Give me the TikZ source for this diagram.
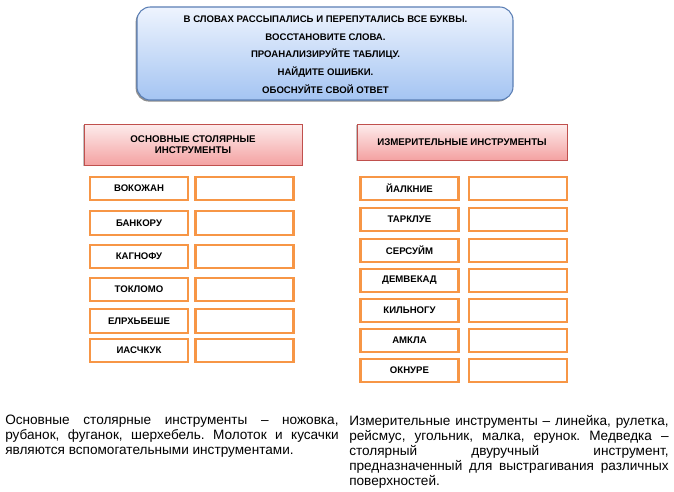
\documentclass[tikz,border=0pt]{standalone}
\usepackage{fontspec}
\setmainfont{Liberation Sans}
\usetikzlibrary{shadows}
\definecolor{bluetop}{HTML}{EEF4FE}
\definecolor{bluebot}{HTML}{A4C4F2}
\definecolor{blueedge}{HTML}{5B7FB5}
\definecolor{pinktop}{HTML}{FDECEC}
\definecolor{pinkbot}{HTML}{F4A2A2}
\definecolor{pinkedge}{HTML}{C0504D}
\definecolor{boxorange}{HTML}{F79646}
\hbadness=10000
\hfuzz=20pt
\begin{document}
\begin{tikzpicture}[x=0.75pt,y=-0.75pt,
  topbox/.style={draw=blueedge, line width=0.8pt, rounded corners=10pt, top color=bluetop, bottom color=bluebot,
    drop shadow={shadow xshift=-1pt, shadow yshift=-1.2pt, fill=black!55, opacity=0.8}},
  header/.style={draw=pinkedge, line width=0.6pt, top color=pinktop, bottom color=pinkbot,
    drop shadow={shadow xshift=-1pt, shadow yshift=-1pt, fill=black!40, opacity=0.6},
    font=\fontsize{7.3pt}{8.2pt}\selectfont\bfseries, align=center, inner sep=0pt},
  word/.style={draw=boxorange, line width=1.6pt, fill=white, minimum width=73.5pt, minimum height=17.5pt,
    inner sep=0pt, font=\fontsize{7.2pt}{8pt}\selectfont\bfseries},
  toptext/.style={font=\fontsize{7.2pt}{8pt}\selectfont\bfseries, inner sep=0pt},
  para/.style={font=\fontsize{10.2pt}{11.25pt}\selectfont\frenchspacing, align=justify, inner sep=0pt, anchor=north west}
]
\useasboundingbox (0,0) rectangle (674,492);
\fill[white] (0,0) rectangle (674,492);

% top instruction box
\node[topbox, minimum width=282pt, minimum height=69.75pt] (task) at (325,53.5) {};
\node[toptext] (t1) at (325.5,19.5) {В СЛОВАХ РАССЫПАЛИСЬ И ПЕРЕПУТАЛИСЬ ВСЕ БУКВЫ.};
\node[toptext] (t2) at (325.5,37.5) {ВОССТАНОВИТЕ СЛОВА.};
\node[toptext] (t3) at (325.5,54.5) {ПРОАНАЛИЗИРУЙТЕ ТАБЛИЦУ.};
\node[toptext] (t4) at (325.5,72) {НАЙДИТЕ ОШИБКИ.};
\node[toptext] (t5) at (325.5,89) {ОБОСНУЙТЕ СВОЙ ОТВЕТ};

% headers
\node[header, minimum width=163.5pt, minimum height=30.75pt] (hl) at (193,144.5) {ОСНОВНЫЕ СТОЛЯРНЫЕ\\ИНСТРУМЕНТЫ};
\node[header, minimum width=157.5pt, minimum height=27pt] (hr) at (462,142) {ИЗМЕРИТЕЛЬНЫЕ ИНСТРУМЕНТЫ};

% left column
\node[word] (l1) at (139,188.5) {ВОКОЖАН};
\node[word] (l1a) at (244.5,188.5) {};
\node[word] (l2) at (139,223) {БАНКОРУ};
\node[word] (l2a) at (244.5,223) {};
\node[word] (l3) at (139,256.5) {КАГНОФУ};
\node[word] (l3a) at (244.5,256.5) {};
\node[word] (l4) at (139,289.5) {ТОКЛОМО};
\node[word] (l4a) at (244.5,289.5) {};
\node[word] (l5) at (139,321) {ЕЛРХЬБЕШЕ};
\node[word] (l5a) at (244.5,321) {};
\node[word] (l6) at (139,350.5) {ИАСЧКУК};
\node[word] (l6a) at (244.5,350.5) {};

% right column
\node[word] (r1) at (409.5,188.5) {ЙАЛКНИЕ};
\node[word] (r1a) at (518,188.5) {};
\node[word] (r2) at (409.5,219.5) {ТАРКЛУЕ};
\node[word] (r2a) at (518,219.5) {};
\node[word] (r3) at (409.5,250.5) {СЕРСУЙМ};
\node[word] (r3a) at (518,250.5) {};
\node[word] (r4) at (409.5,280.5) {ДЕМВЕКАД};
\node[word] (r4a) at (518,280.5) {};
\node[word] (r5) at (409.5,310.5) {КИЛЬНОГУ};
\node[word] (r5a) at (518,310.5) {};
\node[word] (r6) at (409.5,340.5) {АМКЛА};
\node[word] (r6a) at (518,340.5) {};
\node[word] (r7) at (409.5,370.5) {ОКНУРЕ};
\node[word] (r7a) at (518,370.5) {};

% bottom paragraphs
\node[para, text width=250pt] (pl) at (5,415) {Основные столярные инструменты – ножовка,\linebreak рубанок, фуганок, шерхебель. Молоток и кусачки\linebreak являются вспомогательными инструментами.};
\node[para, text width=239.5pt] (pr) at (349,415) {Измерительные инструменты – линейка, рулетка,\linebreak рейсмус, угольник, малка, ерунок. Медведка –\linebreak столярный двуручный инструмент,\linebreak предназначенный для выстрагивания различных\linebreak поверхностей.};
\end{tikzpicture}
\end{document}
